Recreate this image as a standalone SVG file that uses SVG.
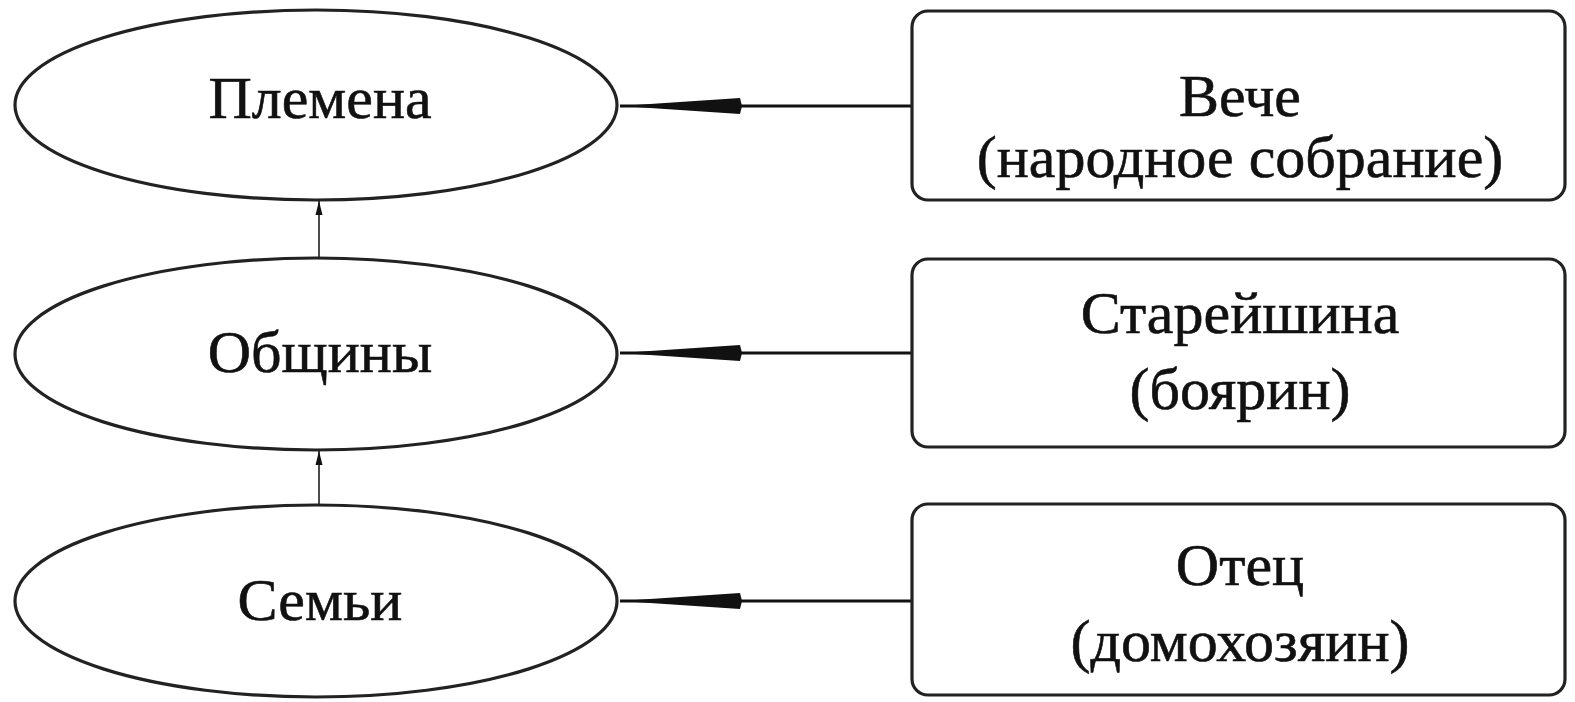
<svg xmlns="http://www.w3.org/2000/svg" width="1575" height="702" viewBox="0 0 1575 702">
<style>
.node{fill:#fff;stroke:#222;stroke-width:3.2}
.t{font-family:"Liberation Serif","DejaVu Serif",serif;font-size:60px;fill:#111;stroke:#111;stroke-width:0.6;text-anchor:middle}
.main{stroke:#111;stroke-width:3;fill:none}
.thin{stroke:#111;stroke-width:1.5;fill:none}
</style>
<defs>
<marker id="big" markerUnits="userSpaceOnUse" markerWidth="124" markerHeight="22" refX="122" refY="11" orient="auto" viewBox="0 0 124 22">
<path d="M122,11 L2,3 L0,11 L2,19 Z" fill="#111"/>
</marker>
<marker id="small" markerUnits="userSpaceOnUse" markerWidth="14" markerHeight="10" refX="14" refY="5" orient="auto" viewBox="0 0 14 10">
<path d="M14,5 L0,1.5 L0,8.5 Z" fill="#111"/>
</marker>
</defs>
<rect width="1575" height="702" fill="#fff"/>
<g id="connectors">
<line class="main" x1="912" y1="106" x2="620" y2="106" marker-end="url(#big)"/>
<line class="main" x1="912" y1="353" x2="620" y2="353" marker-end="url(#big)"/>
<line class="main" x1="912" y1="601" x2="620" y2="601" marker-end="url(#big)"/>
<line class="thin" x1="319" y1="258" x2="319" y2="201" marker-end="url(#small)"/>
<line class="thin" x1="319" y1="505" x2="319" y2="451" marker-end="url(#small)"/>
</g>
<g id="plemena">
<ellipse class="node" cx="316" cy="105" rx="301" ry="95"/>
<text class="t" x="320" y="118">Племена</text>
</g>
<g id="obshchiny">
<ellipse class="node" cx="316" cy="354" rx="301" ry="96"/>
<text class="t" x="320" y="372">Общины</text>
</g>
<g id="semi">
<ellipse class="node" cx="316" cy="601" rx="301" ry="96"/>
<text class="t" x="320" y="620">Семьи</text>
</g>
<g id="veche">
<rect class="node" x="912" y="11" width="653" height="189" rx="16"/>
<text class="t" x="1240" y="116">Вече</text>
<text class="t" x="1240" y="177">(народное собрание)</text>
</g>
<g id="stareyshina">
<rect class="node" x="912" y="259" width="653" height="188" rx="16"/>
<text class="t" x="1240" y="333">Старейшина</text>
<text class="t" x="1240" y="409">(боярин)</text>
</g>
<g id="otets">
<rect class="node" x="912" y="504" width="653" height="191" rx="16"/>
<text class="t" x="1240" y="585">Отец</text>
<text class="t" x="1240" y="661">(домохозяин)</text>
</g>
</svg>
